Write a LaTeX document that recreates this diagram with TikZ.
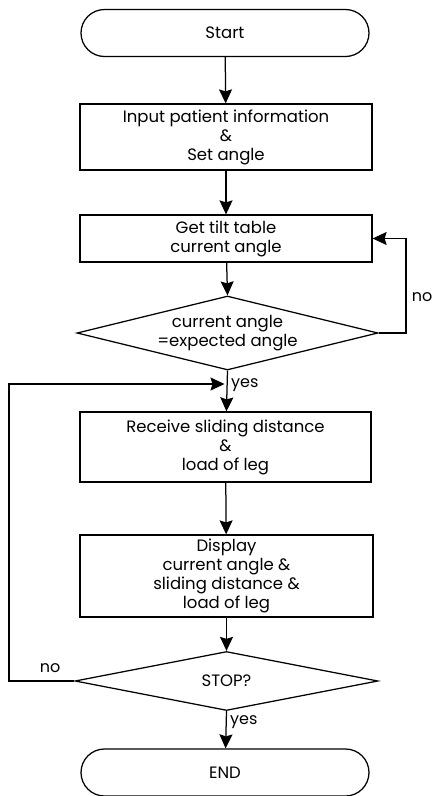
\documentclass[tikz,border=0pt]{standalone}
\usepackage{fontspec}
\setmainfont{Poppins}
\usetikzlibrary{shapes.geometric,arrows.meta}
\begin{document}
\begin{tikzpicture}[x=1pt,y=-1pt,
  line width=1.25pt,
  every node/.style={font=\fontsize{16.5}{19}\selectfont},
  term/.style={draw,rectangle,rounded corners=23.5pt,minimum width=288pt,minimum height=47pt,inner sep=0pt},
  proc/.style={draw,rectangle,minimum width=292pt,inner sep=0pt,align=center},
  dec/.style={draw,diamond,inner sep=0pt},
  txt/.style={align=center,inner sep=0pt},
  arr/.style={-{Stealth[length=14pt,width=13pt,inset=2pt]}},
  lbl/.style={font=\fontsize{16}{18}\selectfont}]
\useasboundingbox (0,0) rectangle (435,796);
\node[term] (start) at (225,33) {Start};
\node[proc,minimum height=66pt] (b1) at (226,137) {Input patient information\\\&\\Set angle};
\node[proc,minimum height=47pt] (b2) at (226,238.5) {Get tilt table\\current angle};
\node[dec,minimum width=301pt,minimum height=74pt] (d1) at (227.5,333) {};
\node[txt] (d1t) at (d1.center) {current angle\\=expected angle};
\node[proc,minimum height=70pt,minimum width=291pt] (b3) at (225.5,447) {Receive sliding distance\\\&\\load of leg};
\node[proc,minimum height=82pt,minimum width=293pt] (b4) at (226.5,576) {Display\\current angle \&\\sliding distance \&\\load of leg};
\node[dec,minimum width=303pt,minimum height=59pt] (d2) at (226.5,681) {};
\node[txt] (d2t) at (d2.center) {STOP?};
\node[term] (end) at (225,772.5) {END};
\coordinate (j) at (d1.south |- 0,384);
\coordinate (r) at (406,333);
\coordinate (l) at (9,681);
\draw[arr] (start) -- (b1);
\draw[arr] (b1) -- (b2);
\draw[arr] (b2) -- (d1.north);
\draw[arr] (d1.south) -- node[lbl,right,pos=0.35] {yes} (b3);
\draw[arr] (b3) -- (b4);
\draw[arr] (b4) -- (d2.north);
\draw[arr] (d2.south) -- node[lbl,right,pos=0.3] {yes} (end);
\draw[arr] (d1.east) -- (r) |- (b2.east);
\draw[arr,shorten >=3pt] (d2.west) -- (l) |- (j);
\node[lbl] (no1) at (422,297) {no};
\node[lbl] (no2) at (50,668) {no};
\end{tikzpicture}
\end{document}
